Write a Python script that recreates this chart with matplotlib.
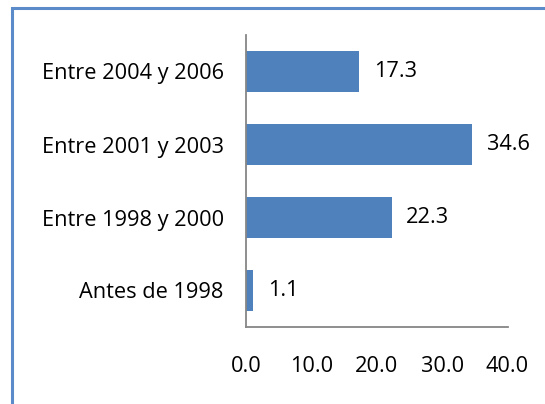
import matplotlib.pyplot as plt
from matplotlib.patches import Rectangle

categories = ['Antes de 1998', 'Entre 1998 y 2000', 'Entre 2001 y 2003', 'Entre 2004 y 2006']
values = [1.1, 22.3, 34.6, 17.3]
xticks = [0, 10, 20, 30, 40]

plt.rcParams['font.family'] = ['Open Sans', 'DejaVu Sans']

W, H = 545, 404
fig = plt.figure(figsize=(W / 100, H / 100), dpi=100)
ax = fig.add_axes([246 / W, 1 - 327 / H, (507.5 - 246) / W, (327 - 35) / H])

bar_color = '#4F81BD'
fs = 15.7
ax.barh(range(len(values)), values, height=0.56, color=bar_color)
ax.set_ylim(-0.5, len(values) - 0.5)
ax.set_xlim(0, 40)

for i, v in enumerate(values):
    ax.annotate(f'{v:.1f}', (v, i), xytext=(10.5, 0), textcoords='offset points',
                va='center', ha='left', fontsize=fs, color='black')

ax.set_yticks(range(len(categories)))
ax.set_yticklabels(categories, fontsize=fs)
ax.set_xticks(xticks)
ax.set_xticklabels([f'{t:.1f}' for t in xticks], fontsize=fs)
ax.tick_params(axis='y', length=0, pad=16)
ax.tick_params(axis='x', length=0, pad=21)

for s in ['top', 'right']:
    ax.spines[s].set_visible(False)
for s in ['left', 'bottom']:
    ax.spines[s].set_color('#868686')
    ax.spines[s].set_linewidth(1.3)

# outer frame of the chart area
fig.patches.append(Rectangle((11.5 / W, -0.1), 1.2, 1 - 7.5 / H + 0.1,
                             transform=fig.transFigure, fill=False,
                             edgecolor='#5B8BC9', linewidth=2.2))

fig.savefig('out.png', dpi=100)
